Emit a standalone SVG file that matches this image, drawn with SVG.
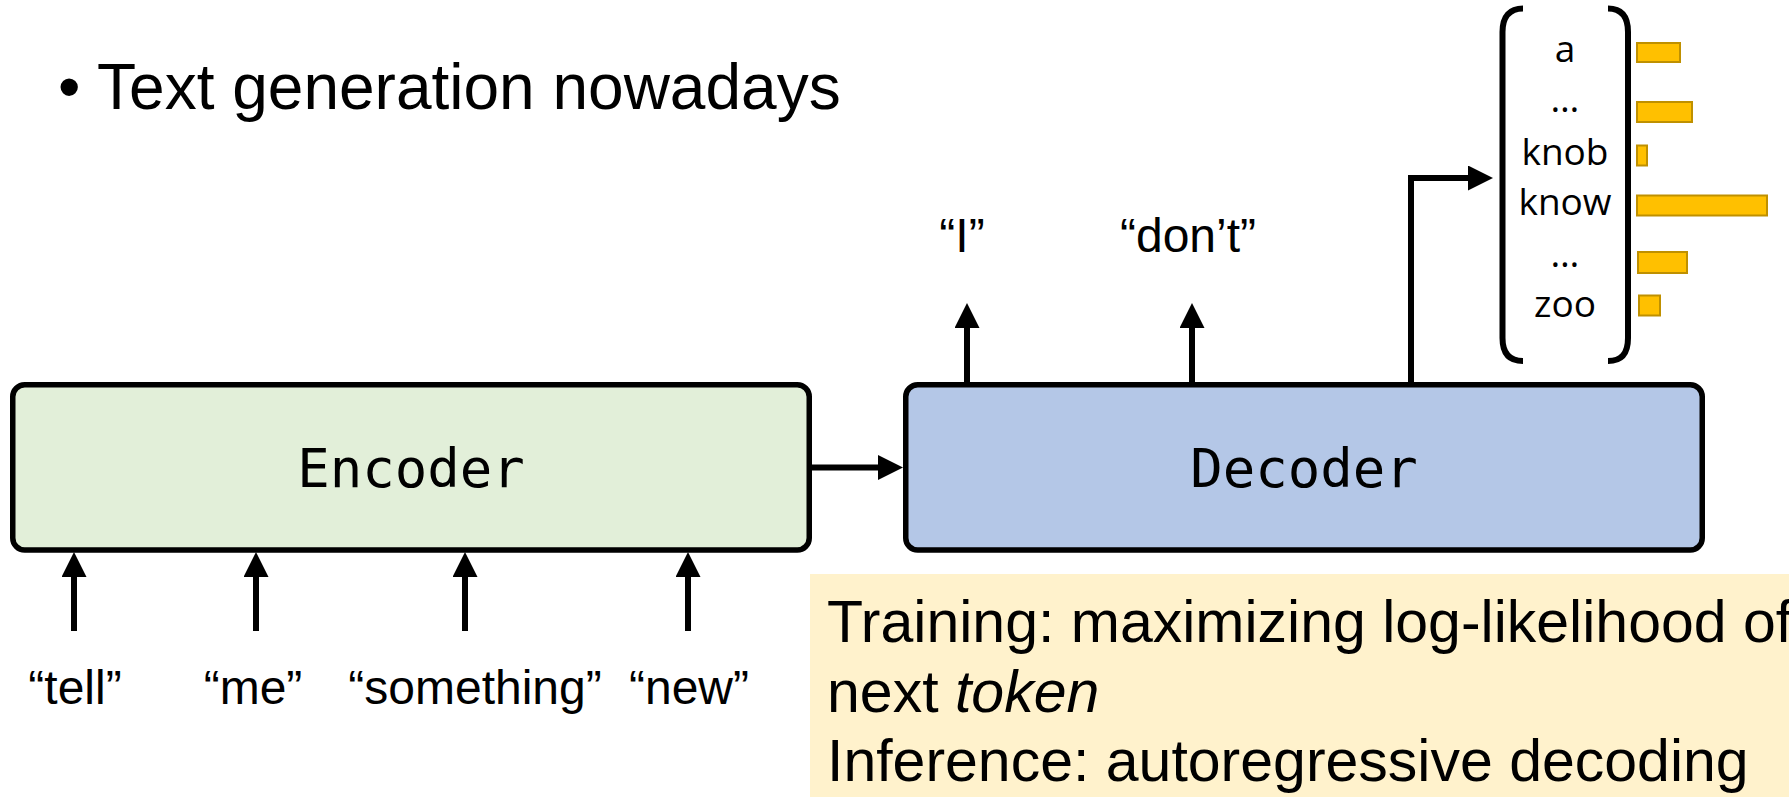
<svg xmlns="http://www.w3.org/2000/svg" width="1789" height="797" viewBox="0 0 1789 797">
<style>
.box{stroke:#000;stroke-width:5.5}
.mono{font-family:"DejaVu Sans Mono","Liberation Mono",monospace;font-size:54px;fill:#000}
.sans{font-family:"Liberation Sans",Arial,sans-serif;fill:#000}
.lbl{font-size:48px;text-anchor:middle}
.word{font-family:"Open Sans","Noto Sans",sans-serif;font-size:37px;text-anchor:middle;fill:#000}
.bar{fill:#ffc000;stroke:#bf9000;stroke-width:2}
.conn{stroke:#000;stroke-width:6;fill:none}
</style>
<defs>
<marker id="ah" markerUnits="userSpaceOnUse" markerWidth="25" markerHeight="25" refX="4" refY="12.5" orient="auto">
<path d="M0,0 L25,12.5 L0,25 z" fill="#000"/>
</marker>
</defs>
<rect width="1789" height="797" fill="#fff"/>
<g id="title">
<text class="sans" x="58" y="109" font-size="64">• Text generation nowadays</text>
</g>
<g id="note">
<rect x="810" y="574" width="979" height="223" fill="#fff2cc"/>
<text class="sans" font-size="59" x="827" y="642">Training: maximizing log-likelihood of</text>
<text class="sans" font-size="59" x="827" y="712">next <tspan font-style="italic">token</tspan></text>
<text class="sans" font-size="59" x="827" y="781">Inference: autoregressive decoding</text>
</g>
<g id="encoder">
<rect class="box" x="12.75" y="384.75" width="796.5" height="165.25" rx="12" fill="#e2efd9"/>
<text class="mono" x="411" y="487" text-anchor="middle">Encoder</text>
</g>
<g id="decoder">
<rect class="box" x="905.75" y="384.75" width="796.5" height="165.25" rx="12" fill="#b4c7e7"/>
<text class="mono" x="1304" y="487" text-anchor="middle">Decoder</text>
</g>
<g id="inputs">
<text class="sans lbl" x="75" y="704">“tell”</text>
<text class="sans lbl" x="253" y="704">“me”</text>
<text class="sans lbl" x="475" y="704">“something”</text>
<text class="sans lbl" x="689" y="704">“new”</text>
</g>
<g id="outputs">
<text class="sans lbl" x="962" y="252">“I”</text>
<text class="sans lbl" x="1188" y="252">“don’t”</text>
</g>
<g id="vocab">
<path class="conn" d="M1523,8.5 C1510,8.5 1502.5,16 1502.5,32 V338 C1502.5,354 1510,361 1523,361"/>
<path class="conn" d="M1608,8.5 C1621,8.5 1628,16 1628,32 V338 C1628,354 1621,361 1608,361"/>
<text class="word" x="1565" y="62">a</text>
<text class="word" x="1565" y="112">…</text>
<text class="word" x="1565" y="165">knob</text>
<text class="word" x="1565" y="215">know</text>
<text class="word" x="1565" y="267">…</text>
<text class="word" x="1565" y="317">zoo</text>
<rect class="bar" x="1637" y="43" width="43" height="19"/>
<rect class="bar" x="1637" y="102" width="55" height="20"/>
<rect class="bar" x="1637" y="145.5" width="10" height="20"/>
<rect class="bar" x="1637" y="195.5" width="130" height="20"/>
<rect class="bar" x="1638" y="252" width="49" height="21"/>
<rect class="bar" x="1639" y="295.5" width="21" height="20"/>
</g>
<g id="connectors">
<line class="conn" x1="74" y1="631" x2="74" y2="573" marker-end="url(#ah)"/>
<line class="conn" x1="256" y1="631" x2="256" y2="573" marker-end="url(#ah)"/>
<line class="conn" x1="465" y1="631" x2="465" y2="573" marker-end="url(#ah)"/>
<line class="conn" x1="688" y1="631" x2="688" y2="573" marker-end="url(#ah)"/>
<line class="conn" x1="812" y1="467.5" x2="882" y2="467.5" marker-end="url(#ah)"/>
<line class="conn" x1="967" y1="384" x2="967" y2="324" marker-end="url(#ah)"/>
<line class="conn" x1="1192" y1="384" x2="1192" y2="324" marker-end="url(#ah)"/>
<path class="conn" d="M1411,384 V178 H1472" marker-end="url(#ah)"/>
</g>
</svg>
